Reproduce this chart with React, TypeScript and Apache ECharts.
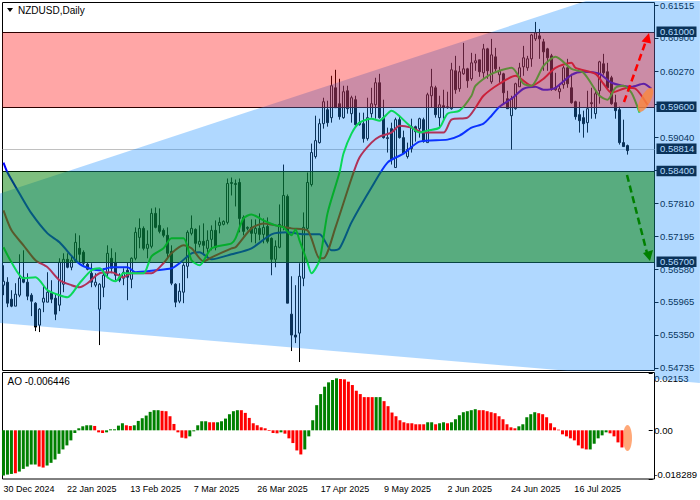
import React, { useEffect, useRef } from "react";
import * as echarts from "echarts";

// All prices below are in points of 0.00001.
const POINT = 0.00001;
const BAR_SLOTS = 163;
const dateTicks = ["30 Dec 2024", "22 Jan 2025", "13 Feb 2025", "7 Mar 2025", "26 Mar 2025", "17 Apr 2025", "9 May 2025", "2 Jun 2025", "24 Jun 2025", "16 Jul 2025"];
const priceTicks = [0.61515, 0.609, 0.6027, 0.59655, 0.5904, 0.58425, 0.5781, 0.57195, 0.5658, 0.55965, 0.5535, 0.54735];
const hiddenPriceLabels = [0.59655, 0.58425];
const priceTags = [0.61, 0.596, 0.58814, 0.584, 0.567];
const levelLines = [0.61, 0.596, 0.584, 0.567];
const lastPrice = 0.58814;
const redBand = [0.61, 0.596];
const greenBand = [0.584, 0.567];
const channelBars = [-0.875, 145.6, 174.1, 174.1, 162.75, 162.75, 140.9, -0.875];
const channelPrices = [57993, 61590, 61590, 54451, 54525, 54678, 54678, 55573];
const aoTicks = [-0.018289, 0, 0.02153];

const opens = [56278,56334,56017,55886,56091,56427,56334,56091,55942,55532,55961,55961,56128,56035,55905,56296,56762,56613,56725,56967,56893,56669,56501,56278,55830,56240,56501,56781,56706,56427,56408,56557,56389,56781,57172,57340,56967,57005,57620,57396,57303,57210,56911,56296,55979,56147,56632,57247,57321,57042,57098,56967,57135,57303,57396,57415,57452,58179,58160,58198,57545,57340,57359,57247,57340,57228,57377,57154,56762,56986,57359,57937,55737,55346,55383,56408,57340,58160,58682,58943,59297,59558,59409,59968,59670,59409,59912,59484,59745,59279,59297,59018,59484,59651,60062,59409,59018,59204,58477,59372,59036,58682,58831,59241,59204,59372,58943,59819,59968,59409,59633,59595,59577,60285,59950,60229,60322,60136,60434,60490,60248,60695,60080,60546,60211,60229,59763,59446,59577,59987,60360,60341,60509,60882,60938,60826,60695,60565,59931,59894,60024,60341,59968,59707,59465,59409,59316,59689,59484,59912,60416,60267,60155,59689,59558,58943,58887];
const closes = [56352,55942,55886,56110,56408,56334,56073,55979,55495,55830,56035,56147,56017,55737,56706,56762,56613,56744,57079,56855,56688,56576,56334,56334,56296,56464,56874,56594,56464,56371,56520,56427,56781,57266,57340,56967,57042,57620,57359,57284,57210,56874,56315,55961,56166,56650,57266,57340,57060,57098,57023,57116,57303,56986,57452,57471,58179,58198,58179,57526,57284,57359,57247,57340,57228,57359,57098,56762,57005,57415,57955,55942,55346,55308,56445,57359,58198,58757,58980,59297,59707,59316,60006,59595,59428,59894,59577,59782,59279,59316,59018,59409,59670,60062,59409,59036,59036,58626,59372,59036,58738,58813,59241,59148,59390,58962,59838,59987,59465,59651,59595,59614,60304,59931,60267,60322,60099,60434,60472,60267,60695,60285,60583,60322,60285,59875,59577,59763,60043,60341,60528,60509,60956,60994,60882,60639,60528,59950,59968,59950,60341,60043,59689,59428,59353,59297,59577,59670,59856,60453,60248,59968,59670,59540,58943,58869,58794];
const lows = [56091,55867,55867,55886,56054,56315,55998,55700,55420,55402,55774,55961,55942,55625,55793,56147,56594,56557,56706,56706,56650,56557,56240,56240,55159,56054,56408,56501,56371,56334,56278,55998,56222,56744,56967,56930,56781,56967,57340,57247,57172,56781,56278,55867,55942,55942,56408,57210,56874,56986,56837,56799,56930,56930,57247,57396,57415,57955,57750,57266,57210,57303,57079,57060,57116,57060,57060,56464,56613,56967,57303,55942,55047,55196,54842,56259,57303,58123,58645,58925,59204,59241,59316,59595,59372,59390,59484,59316,59260,59260,58943,58980,59409,59390,59390,59018,58757,58533,58477,59018,58738,58645,58757,58962,59036,58943,58943,59595,59409,59223,59390,59577,59558,59856,59894,60211,59968,60099,60285,60173,60155,60136,60043,60248,60062,59670,59577,58813,59558,59987,60192,60285,60360,60844,60509,60285,60285,59912,59912,59763,59950,59968,59670,59372,59130,59036,59130,59390,59390,59670,60211,59950,59651,59390,58906,58869,58719];
const highs = [56650,56427,56184,56315,56855,56930,56501,56128,55961,55849,56278,56520,56371,56128,56781,56874,56874,56837,57247,57210,56930,56706,56688,56501,56315,56594,57023,56967,56893,56501,56594,56706,56799,57359,57526,57377,57303,57713,57731,57713,57340,57359,57023,56315,56315,56688,57303,57582,57340,57396,57433,57303,57396,57489,57545,57489,58272,58291,58253,58272,57582,57377,57508,57508,57620,57526,57545,57172,57116,57787,58533,57974,56445,56278,56688,57638,58384,58925,59446,59390,59782,59726,60192,60304,60136,60006,60006,59819,59819,59502,59502,59782,59968,60155,60229,59745,59223,59316,59409,59446,59167,58943,59390,59260,59409,59409,59875,60322,60006,59819,59931,59894,60434,60565,60378,60807,60341,60621,60602,60490,60788,60714,60882,60714,60360,60248,59912,59819,60062,60434,60751,60565,60975,61199,61068,60882,60714,60602,60248,60043,60378,60509,60229,59726,59707,59540,59912,59968,59912,60472,60602,60434,60192,59838,59614,59372,58906];

const jawBars = [0,1,4,7,11,14,18,20,24,27,31,33,38,42,44,47,49,52,57,62,67,71,75,79,82,84,87,92,96,100,104,111,114,117,120,122,124,127,130,133,135,138,142,145,149,152,157,160,162];
const jawPrices = [58570,58384,57993,57620,57247,57079,56744,56632,56557,56613,56613,56520,56557,56594,56688,56874,56893,56762,56855,56967,57228,57266,57228,57228,56930,56967,57452,58104,58570,58738,58962,58999,59074,59223,59297,59446,59614,59763,59950,59987,59931,59968,60211,60267,60229,60062,59987,60043,59950];
const teethBars = [0,2,5,8,11,14,17,19,21,24,27,30,32,37,40,42,45,47,50,52,57,58,62,65,68,72,76,79,80,83,87,89,92,94,97,99,102,105,110,112,116,118,120,124,128,132,135,138,142,143,148,150,152,156,158,161];
const teethPrices = [57676,57303,57023,56744,56613,56371,56278,56240,56315,56501,56520,56427,56501,56501,56688,56874,57023,56967,56725,56799,56967,56986,57340,57433,57396,57340,57303,56781,56781,57359,58272,58664,58943,59055,59130,59260,59223,59130,59130,59372,59409,59595,59819,60043,60192,60006,60136,60341,60434,60341,60229,60043,59875,59968,59950,59651];
const lipsBars = [0,2,5,8,11,14,16,19,22,24,26,28,30,32,35,37,40,42,45,47,49,52,57,58,60,62,65,68,70,72,73,74,76,77,79,81,84,85,87,89,92,94,97,101,104,106,109,111,114,117,118,122,127,130,132,135,138,142,145,149,151,153,155,157,159];
const lipsPrices = [56986,56706,56408,56427,56184,56091,56054,56315,56557,56594,56427,56352,56501,56501,56501,56818,56967,57154,57154,56744,56650,56967,57060,57154,57526,57601,57489,57396,57359,57210,57321,57116,56706,56501,56744,57620,58384,58738,59111,59316,59390,59353,59540,59297,59130,59167,59223,59484,59540,59819,60006,60229,60341,60043,60006,60378,60546,60322,60248,59819,59745,59968,60006,59875,59502];

const aoValues = [-1701,-1663,-1638,-1613,-1550,-1449,-1361,-1285,-1285,-1361,-1399,-1323,-1222,-1096,-882,-718,-567,-378,-101,76,151,189,189,164,-76,-101,-76,38,38,176,265,189,164,189,353,454,554,693,756,756,731,718,529,239,-76,-277,-302,-227,-38,189,340,340,302,302,302,340,441,605,718,756,756,655,466,265,189,113,76,-25,-101,-113,-76,-126,-302,-479,-756,-907,-718,-227,378,945,1361,1638,1802,1890,1953,1928,1915,1827,1701,1487,1361,1247,1247,1247,1247,1247,1096,907,668,529,378,302,265,265,227,227,227,302,302,227,265,302,265,302,416,567,680,718,756,794,756,756,718,680,643,529,416,227,113,76,151,227,491,605,680,643,605,491,265,113,25,-151,-227,-302,-378,-567,-680,-718,-718,-504,-302,-189,-76,-113,-227,-454,-644];
const aoDirections = ["ggg","r","ggggg","rr","gggggggggggg","rrr","ggggg","rr","ggggggg","rrrrrrr","ggggg","rr","gggggg","rrrrrrrrrr","g","rrrrr","ggggggggg","rrrrrrrrr","gg","rrrrrrrrrrr","gg","r","gg","r","ggggggg","rrrrrrrrrr","ggggg","rrrrrrrrrrrrr","ggggg","rrrr"].join("");

const categories = Array.from({ length: BAR_SLOTS }, (_, i) => (i % 16 === 0 ? dateTicks[i / 16] ?? "" : ""));
const pairs = (bars: number[], prices: number[]) => bars.map((b, i) => [b, prices[i] * POINT]);
const FONT = "Liberation Sans";
const FONT_SIZE = 9.5;
const snap = (y: number) => Math.floor(y + 0.2) + 0.5;

export default function App() {
  const ref = useRef<HTMLDivElement>(null);
  useEffect(() => {
    document.body.style.margin = "0";
    const chart = echarts.init(ref.current!, null, { renderer: "svg" });
    const band = (hiLo: number[], fill: string) => ({
      type: "custom", xAxisIndex: 0, yAxisIndex: 0, z: 11, silent: true, data: [[0, hiLo[0]]],
      renderItem: (params: any, api: any) => {
        const c = params.coordSys;
        const y0 = snap(api.coord([0, hiLo[0]])[1]);
        const y1 = snap(api.coord([0, hiLo[1]])[1]);
        return { type: "rect", shape: { x: c.x + 1, y: y0, width: c.width, height: y1 - y0 }, style: { fill } };
      },
    });
    const levels = (values: number[], stroke: string) => ({
      type: "custom", xAxisIndex: 0, yAxisIndex: 0, z: 1, silent: true, data: values.map((v) => [0, v]),
      renderItem: (params: any, api: any) => {
        const c = params.coordSys;
        const y = snap(api.coord([0, api.value(1)])[1]);
        return { type: "line", shape: { x1: c.x + 1, y1: y, x2: c.x + c.width + 1, y2: y }, style: { stroke, lineWidth: 1 } };
      },
    });
    chart.setOption({
      animation: false,
      grid: [
        { left: 1.5, top: 2.5, width: 652, height: 367.5 },
        { left: 1.5, top: 373, width: 652, height: 106 },
      ],
      xAxis: [
        { type: "category", gridIndex: 0, data: categories, show: false },
        {
          type: "category", gridIndex: 1, data: categories,
          axisLine: { show: false },
          axisTick: { alignWithLabel: true, length: 3, interval: (_: number, v: string) => v !== "", lineStyle: { color: "#000" } },
          axisLabel: { interval: (_: number, v: string) => v !== "", align: "left", margin: 5, color: "#000", fontFamily: FONT, fontSize: 9 },
        },
      ],
      yAxis: [
        {
          type: "value", gridIndex: 0, position: "right", offset: 1, min: 0.54693, max: 0.61543, scale: true,
          splitLine: { show: false }, axisLine: { show: false },
          axisTick: { show: true, length: 4, customValues: priceTicks, lineStyle: { color: "#000" } },
          axisLabel: { margin: 5.5, color: "#000", fontFamily: FONT, fontSize: FONT_SIZE, customValues: priceTicks.filter((p) => !hiddenPriceLabels.includes(p)), formatter: (v: number) => v.toFixed(5) },
        },
        {
          type: "value", gridIndex: 1, position: "right", offset: 1, min: -0.018289, max: 0.02153,
          splitLine: { show: false }, axisLine: { show: false },
          axisTick: { show: true, length: 4, customValues: aoTicks, lineStyle: { color: "#000" } },
          axisLabel: {
            margin: 5.5, color: "#000", fontFamily: FONT, fontSize: FONT_SIZE, customValues: aoTicks,
            verticalAlignMaxLabel: "top", verticalAlignMinLabel: "bottom",
            formatter: (v: number) => (v === 0 ? "0.00" : String(v)),
          },
        },
      ],
      series: [
        levels(levelLines, "#000"),
        levels([lastPrice], "#c0c0c0"),
        {
          type: "candlestick", xAxisIndex: 0, yAxisIndex: 0, barWidth: 3, z: 2, silent: true,
          data: opens.map((o, i) => [o * POINT, closes[i] * POINT, lows[i] * POINT, highs[i] * POINT]),
          itemStyle: { color: "transparent", color0: "#000", borderColor: "#000", borderColor0: "#000", borderWidth: 1 },
        },
        ...[
          { bars: jawBars, prices: jawPrices, color: "#0000ff" },
          { bars: teethBars, prices: teethPrices, color: "#ff0000" },
          { bars: lipsBars, prices: lipsPrices, color: "#00ff00" },
        ].map((s) => ({
          type: "line", xAxisIndex: 0, yAxisIndex: 0, z: 3, silent: true, data: pairs(s.bars, s.prices),
          smooth: 0.25, showSymbol: false, symbol: "none", lineStyle: { color: s.color, width: 2 },
        })),
        {
          type: "custom", xAxisIndex: 0, yAxisIndex: 0, z: 4, silent: true,
          data: priceTags.map((p) => [0, p]),
          renderItem: (params: any, api: any) => {
            const c = params.coordSys;
            const p = api.value(1);
            const y = api.coord([0, p])[1];
            const right = c.x + c.width;
            return {
              type: "group",
              children: [
                { type: "rect", shape: { x: right + 3, y: y - 6, width: 40, height: 10.5 }, style: { fill: "#000" } },
                { type: "text", style: { x: right + 6.5, y: y - 0.7, text: p.toFixed(5), fill: "#fff", font: `${FONT_SIZE}px ${FONT}`, align: "left", verticalAlign: "middle" } },
              ],
            };
          },
        },
        {
          type: "custom", xAxisIndex: 0, yAxisIndex: 0, z: 10, silent: true, data: [[0, channelPrices[0] * POINT]],
          renderItem: (params: any, api: any) => {
            const c = params.coordSys;
            const slot = c.width / BAR_SLOTS;
            const points = channelBars.map((b, i) => [c.x + (b + 0.5) * slot, api.coord([0, channelPrices[i] * POINT])[1]]);
            return { type: "polygon", shape: { points }, style: { fill: "rgba(30,144,255,0.35)" } };
          },
        },
        band(redBand, "rgba(255,0,0,0.35)"),
        band(greenBand, "rgba(0,128,0,0.5)"),
        {
          type: "bar", xAxisIndex: 1, yAxisIndex: 1, barWidth: 3, silent: true,
          data: aoValues.map((v) => v * POINT),
          itemStyle: { color: (p: any) => (aoDirections[p.dataIndex] === "g" ? "#008000" : "#ff0000") },
        },
      ],
      graphic: [
        { type: "rect", z: 1, shape: { x: 2.5, y: 2.5, width: 652, height: 368 }, style: { fill: "none", stroke: "#000", lineWidth: 1 } },
        { type: "rect", z: 1, shape: { x: 2.5, y: 372.5, width: 652, height: 106.5 }, style: { fill: "none", stroke: "#000", lineWidth: 1 } },
        { type: "polygon", z: 1, shape: { points: [[7, 8], [13, 8], [10, 12]] }, style: { fill: "#000" } },
        { type: "text", z: 1, style: { x: 18, y: 10.5, text: "NZDUSD,Daily", fill: "#000", font: `10px ${FONT}`, verticalAlign: "middle" } },
        { type: "text", z: 1, style: { x: 7.5, y: 381, text: "AO -0.006446", fill: "#000", font: `10px ${FONT}`, verticalAlign: "middle" } },
        { type: "line", z: 20, shape: { x1: 624, y1: 102, x2: 646, y2: 41 }, style: { stroke: "#ff0000", lineWidth: 2.5, lineDash: [7, 4] } },
        { type: "polygon", z: 20, shape: { points: [[641.5, 41.5], [651, 43.5], [649, 33]] }, style: { fill: "#ff0000" } },
        { type: "line", z: 20, shape: { x1: 627, y1: 175, x2: 647, y2: 253 }, style: { stroke: "#008000", lineWidth: 2.5, lineDash: [7, 4] } },
        { type: "polygon", z: 20, shape: { points: [[643, 253], [653, 250], [650, 261]] }, style: { fill: "#008000" } },
        { type: "ellipse", z: 20, x: 645.5, y: 100, rotation: -0.49, shape: { cx: 0, cy: 0, rx: 5, ry: 13.5 }, style: { fill: "rgba(250,135,60,0.8)" } },
        { type: "ellipse", z: 20, x: 627.5, y: 438, shape: { cx: 0, cy: 0, rx: 4.5, ry: 13 }, style: { fill: "rgba(255,110,30,0.6)" } },
      ],
    });
    return () => chart.dispose();
  }, []);
  return <div ref={ref} style={{ width: 700, height: 500 }} />;
}
